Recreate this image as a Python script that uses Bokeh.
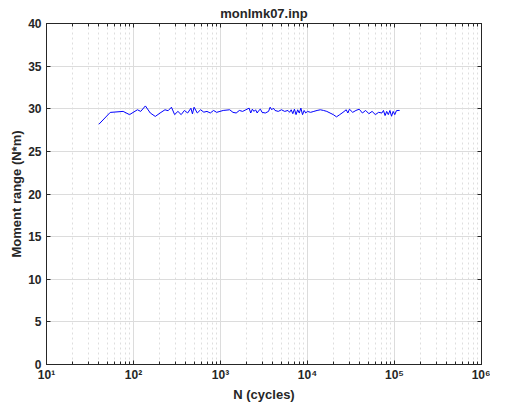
from bokeh.plotting import figure
from bokeh.models import LogAxis, LinearAxis, FixedTicker
from bokeh.embed import file_html
from bokeh.resources import INLINE

# ---- data ----
cycles = [
    40, 54, 76, 90, 111, 121, 137, 156, 178, 202,
    230, 250, 273, 297, 324, 353, 385, 419, 457, 476,
    497, 541, 590, 643, 700, 763, 832, 904, 986, 1074,
    1276,
    1390, 1514, 1648, 1796, 1958, 2133, 2225, 2323, 2425, 2531,
    2642, 2756, 2877, 3004, 3273, 3566, 3722, 3884, 4054, 4230,
    4610, 5023, 5472, 5962, 6223, 6496, 6778, 7075, 7385, 7710,
    8043, 8395, 8763, 9146, 9547, 9965, 10860, 11830, 12890, 14040,
    15300, 16670, 18160, 19780, 21550, 23480, 25580, 27870, 29090, 30360,
    33080, 36040, 39260, 42770, 46600, 50770, 55310, 60260, 65650, 71520,
    74650, 77920, 81330, 84890, 88600, 92480, 96530, 100750, 105160, 109760,
    114570,
]
moment_range = [
    28.18, 29.57, 29.69, 29.31, 29.88, 29.69, 30.33, 29.50, 29.10, 29.50,
    29.88, 29.77, 30.18, 29.31, 29.69, 29.31, 29.80, 29.50, 30.06, 29.40,
    30.18, 29.50, 29.88, 29.60, 29.69, 29.50, 29.80, 29.58, 29.69, 29.80,
    29.88,
    29.58, 29.50, 29.80, 29.69, 29.88, 30.07, 29.50, 29.95, 29.69, 29.88,
    29.50, 29.80, 29.95, 29.58, 29.50, 29.69, 30.18, 29.88, 30.07, 29.80,
    29.69, 29.88, 29.69, 29.80, 29.58, 29.88, 29.42, 29.95, 29.31, 29.88,
    29.50, 30.07, 29.31, 29.80, 29.50, 29.69, 29.58, 29.69, 29.80, 29.88,
    29.80, 29.69, 29.50, 29.31, 29.05, 29.31, 29.58, 29.88, 29.50, 29.95,
    29.58, 29.80, 29.95, 29.50, 29.80, 29.42, 29.69, 29.31, 29.58, 29.50,
    29.80, 29.20, 29.69, 29.31, 29.80, 29.12, 29.69, 29.31, 29.77, 29.80,
    29.80,
]
x_decades = [10, 100, 1000, 10000, 100000, 1000000]
x_tick_labels = ["10\u00b9", "10\u00b2", "10\u00b3", "10\u2074", "10\u2075", "10\u2076"]
y_ticks = [0, 5, 10, 15, 20, 25, 30, 35, 40]

TXT = "#262626"
FONT = "Liberation Sans"

x_minor = [d * k for d in x_decades[:-1] for k in range(2, 10)]
xticker = FixedTicker(ticks=x_decades, minor_ticks=x_minor)
yticker = FixedTicker(ticks=y_ticks)

p = figure(width=490, height=404, x_axis_type="log",
           x_range=(10, 1e6), y_range=(0, 40),
           output_backend="svg", toolbar_location=None,
           min_border_left=46, min_border_right=9,
           min_border_bottom=30, min_border_top=10)
p.background_fill_color = "white"
p.border_fill_color = "white"
p.outline_line_color = TXT
p.outline_line_width = 1

p.title.text = "monlmk07.inp"
p.title.align = "center"
p.title.text_font = FONT
p.title.text_font_size = "13px"
p.title.text_font_style = "bold"
p.title.text_color = TXT
p.title.offset = 0
p.title.standoff = 6

def style_axis(ax, show_labels=True):
    ax.axis_line_color = TXT
    ax.major_tick_line_color = TXT
    ax.minor_tick_line_color = TXT
    ax.major_tick_in = 4
    ax.major_tick_out = 0
    ax.minor_tick_in = 3
    ax.minor_tick_out = 0
    ax.major_label_text_font = FONT
    ax.major_label_text_font_style = "bold"
    ax.major_label_text_font_size = "12px" if show_labels else "0px"
    ax.major_label_text_color = TXT
    ax.axis_label_text_font = FONT
    ax.axis_label_text_font_size = "13px"
    ax.axis_label_text_font_style = "bold"
    ax.axis_label_text_color = TXT

xa = p.xaxis[0]
xa.ticker = xticker
xa.major_label_overrides = {d: t for d, t in zip(x_decades, x_tick_labels)}
xa.axis_label = "N (cycles)"
xa.axis_label_standoff = 2
xa.major_label_standoff = 3
style_axis(xa)

ya = p.yaxis[0]
ya.ticker = yticker
ya.axis_label = "Moment range (N*m)"
ya.axis_label_standoff = 1
ya.major_label_standoff = 5
style_axis(ya)
ya.minor_tick_in = 0

top = LogAxis(ticker=xticker, major_label_standoff=0)
style_axis(top, show_labels=False)
top.major_label_overrides = {d: "" for d in x_decades}
p.add_layout(top, "above")

right = LinearAxis(ticker=yticker, major_label_standoff=0)
style_axis(right, show_labels=False)
right.minor_tick_in = 0
right.major_label_overrides = {t: "" for t in y_ticks}
p.add_layout(right, "right")

p.xgrid.ticker = xticker
p.xgrid.grid_line_color = "#dcdcdc"
p.xgrid.minor_grid_line_color = "#dedede"
p.xgrid.minor_grid_line_dash = "2 3"
p.ygrid.ticker = yticker
p.ygrid.grid_line_color = "#dcdcdc"

p.line(cycles, moment_range, line_color="#0000ff", line_width=1)

open("out.html", "w").write(file_html(p, INLINE))
